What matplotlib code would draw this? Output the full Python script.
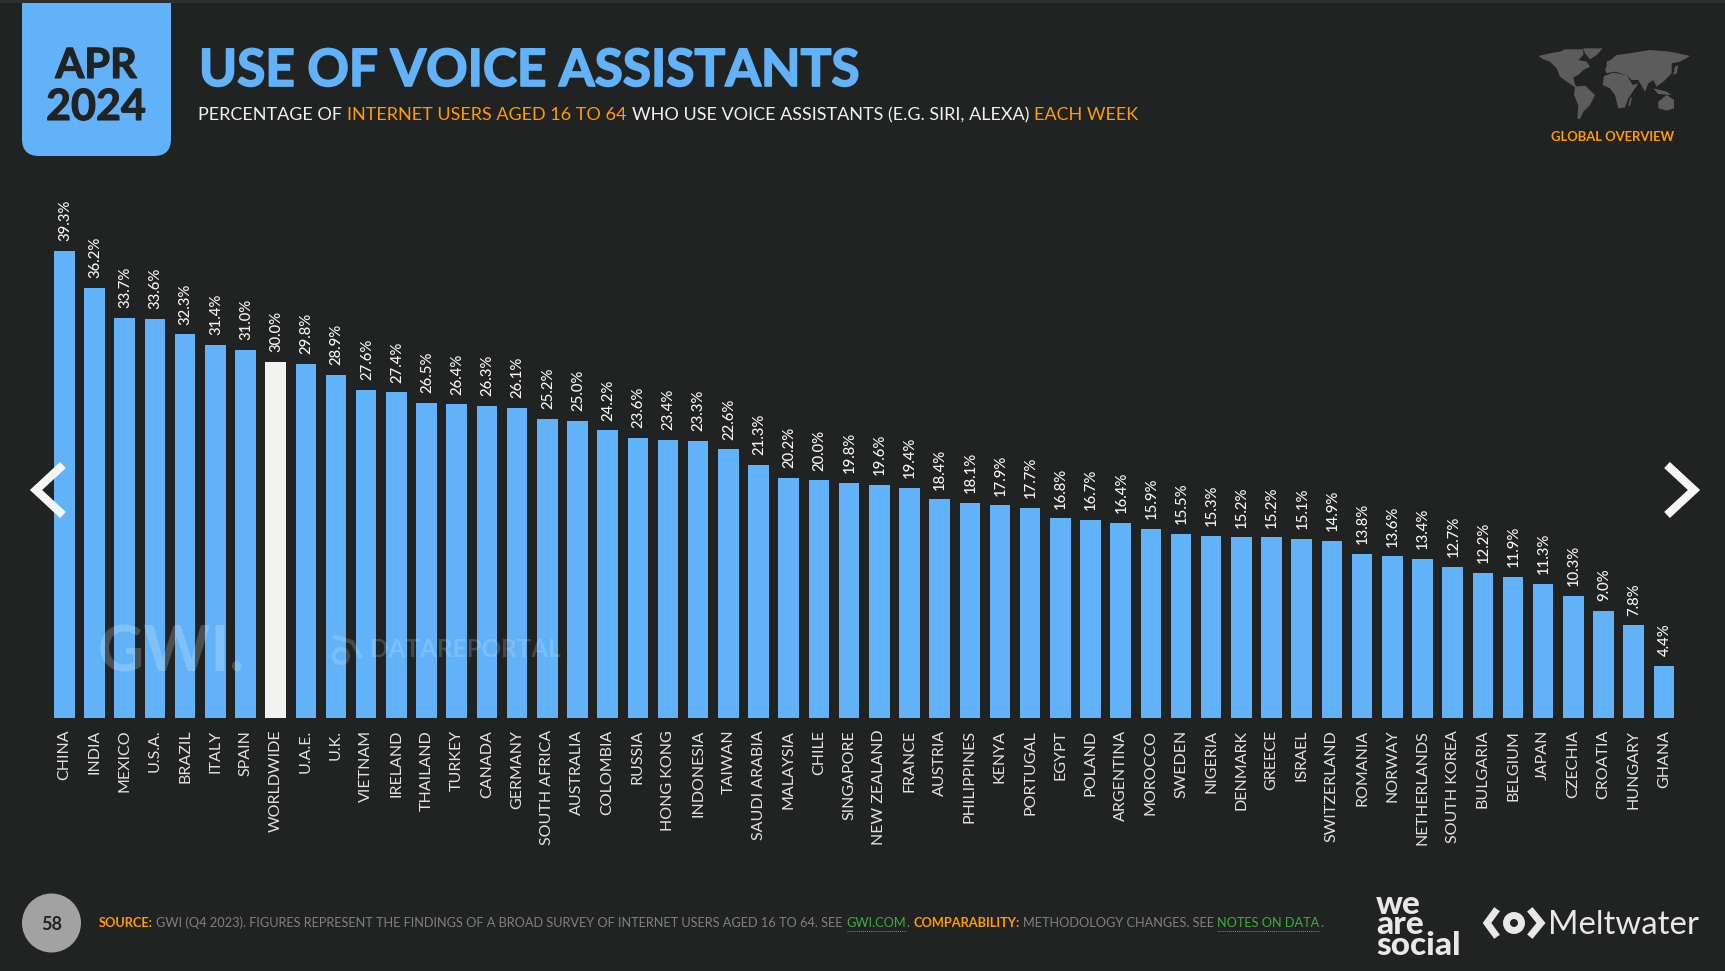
import matplotlib
matplotlib.use('Agg')
import matplotlib.pyplot as plt
import matplotlib.patheffects as pe
from matplotlib.patches import Circle, FancyBboxPatch, Polygon, Rectangle

# data
countries = ['CHINA', 'INDIA', 'MEXICO', 'U.S.A.', 'BRAZIL', 'ITALY', 'SPAIN', 'WORLDWIDE', 'U.A.E.', 'U.K.',
             'VIETNAM', 'IRELAND', 'THAILAND', 'TURKEY', 'CANADA', 'GERMANY', 'SOUTH AFRICA', 'AUSTRALIA',
             'COLOMBIA', 'RUSSIA', 'HONG KONG', 'INDONESIA', 'TAIWAN', 'SAUDI ARABIA', 'MALAYSIA', 'CHILE',
             'SINGAPORE', 'NEW ZEALAND', 'FRANCE', 'AUSTRIA', 'PHILIPPINES', 'KENYA', 'PORTUGAL', 'EGYPT',
             'POLAND', 'ARGENTINA', 'MOROCCO', 'SWEDEN', 'NIGERIA', 'DENMARK', 'GREECE', 'ISRAEL',
             'SWITZERLAND', 'ROMANIA', 'NORWAY', 'NETHERLANDS', 'SOUTH KOREA', 'BULGARIA', 'BELGIUM', 'JAPAN',
             'CZECHIA', 'CROATIA', 'HUNGARY', 'GHANA']
values = [39.3, 36.2, 33.7, 33.6, 32.3, 31.4, 31.0, 30.0, 29.8, 28.9,
          27.6, 27.4, 26.5, 26.4, 26.3, 26.1, 25.2, 25.0,
          24.2, 23.6, 23.4, 23.3, 22.6, 21.3, 20.2, 20.0,
          19.8, 19.6, 19.4, 18.4, 18.1, 17.9, 17.7, 16.8,
          16.7, 16.4, 15.9, 15.5, 15.3, 15.2, 15.2, 15.1,
          14.9, 13.8, 13.6, 13.4, 12.7, 12.2, 11.9, 11.3,
          10.3, 9.0, 7.8, 4.4]

BG = '#212322'
BLUE = '#61B2F8'
ORANGE = '#FF9A0A'
GREEN = '#3DAF3D'
W, H = 1725, 971

fig = plt.figure(figsize=(W / 100, H / 100), dpi=100, facecolor=BG)

# chart axes
ax = fig.add_axes([49.3 / W, 1 - 718 / H, (1679 - 49.3) / W, 499 / H])
ax.set_facecolor('none')
colors = ['#F2F1EF' if c == 'WORLDWIDE' else BLUE for c in countries]
x = list(range(len(countries)))
ax.bar(x, values, width=0.68, color=colors)
ax.set_xlim(-0.5, len(countries) - 0.5)
ax.set_ylim(0, 42)
ax.set_yticks([])
ax.set_xticks(x)
ax.set_xticklabels(countries, rotation=90, family='Lato', fontsize=11.5, color='#E2E2E2', ha='center', va='top')
ax.tick_params(axis='x', length=0, pad=8.5)
for s in ax.spines.values():
    s.set_visible(False)
for i, v in enumerate(values):
    ax.annotate(f'{v:.1f}%', (i, v), xytext=(0.5, 7), textcoords='offset points', rotation=90,
                ha='center', va='bottom', family='Lato', fontweight=500, fontsize=10.7, color='#F5F5F5')

# everything else sits on a pixel overlay
ov = fig.add_axes([0, 0, 1, 1])
ov.set_xlim(0, W)
ov.set_ylim(H, 0)
ov.axis('off')
ov.patch.set_alpha(0)
rend = fig.canvas.get_renderer()


def runs(x0, y, parts, size, gap, **kw):
    # text in several colours one after the other
    xpos = x0
    for n, (txt, col, weight) in enumerate(parts):
        t = ov.text(xpos, y, txt, color=col, fontsize=size, fontweight=weight, va='baseline', ha='left', **kw)
        bb = t.get_window_extent(rend)
        if col == GREEN:
            ov.plot([xpos, bb.x1], [y + 4, y + 4], color=GREEN, lw=0.7, ls=(0, (1, 1)))
        xpos = bb.x1 + gap
        if n + 1 < len(parts) and parts[n + 1][0] == '.':
            xpos = bb.x1 + 0.5
    return xpos


def thick(w, col):
    return [pe.withStroke(linewidth=w, foreground=col)]


# date tab
ov.add_patch(FancyBboxPatch((22, -40), 149, 196, boxstyle='round,pad=0,rounding_size=17', color=BLUE, lw=0))
ov.add_patch(Rectangle((0, 0), W, 3, color='#2E2F2F', lw=0))
ov.text(96, 78, 'APR', family='Lato', fontweight='bold', fontsize=30, color=BG, ha='center', va='baseline',
        path_effects=thick(0.8, BG))
ov.text(96, 120, '2024', family='Lato', fontweight='bold', fontsize=31, color=BG, ha='center', va='baseline',
        path_effects=thick(0.8, BG))

# title
ov.text(199, 86, 'USE OF VOICE ASSISTANTS', family='Lato', fontweight='bold', fontsize=37, color=BLUE, va='baseline',
        path_effects=thick(1.2, BLUE))
runs(198, 120, [('PERCENTAGE OF', '#F0F0F0', 'normal'),
                ('INTERNET USERS AGED 16 TO 64', ORANGE, 'normal'),
                ('WHO USE VOICE ASSISTANTS (E.G. SIRI, ALEXA)', '#F0F0F0', 'normal'),
                ('EACH WEEK', ORANGE, 'normal')], 12.95, 5, family='Lato')

# map, rough outline only
map_shapes = [
    [(265, 108), (300, 100), (330, 95), (345, 88), (400, 88), (400, 105), (385, 120), (410, 125), (420, 140),
     (400, 150), (385, 165), (370, 172), (375, 195), (385, 205), (372, 200), (350, 185), (330, 170), (320, 145),
     (300, 125), (280, 118)],
    [(400, 85), (458, 85), (440, 105), (420, 118), (405, 100)],
    [(375, 200), (405, 197), (435, 225), (420, 255), (400, 275), (390, 297), (382, 295), (385, 255), (372, 225)],
    [(462, 168), (490, 158), (530, 165), (548, 195), (565, 190), (535, 235), (525, 262), (505, 265), (495, 225),
     (480, 205), (458, 195)],
    [(465, 150), (475, 125), (500, 105), (540, 100), (600, 90), (660, 95), (720, 108), (690, 125), (665, 130),
     (665, 160), (640, 185), (620, 200), (610, 180), (595, 190), (585, 215), (565, 180), (545, 180), (530, 165),
     (495, 155), (470, 160)],
    [(625, 245), (650, 225), (672, 240), (672, 265), (650, 272), (625, 265)],
    [(610, 205), (650, 215), (665, 225), (625, 222)],
    [(470, 125), (482, 120), (480, 138), (470, 138)],
    [(675, 140), (685, 135), (680, 160), (670, 165)],
    [(540, 235), (546, 232), (540, 258), (535, 258)],
]
for shape in map_shapes:
    ov.add_patch(Polygon([(1450 + a / 3, 20 + b / 3) for a, b in shape], color='#5C5C5C', lw=0))
ov.text(1613, 141, 'GLOBAL OVERVIEW', family='Lato', fontweight='bold', fontsize=9.4, color=ORANGE,
        ha='center', va='baseline')

# nav arrows
ov.plot([63, 36, 63], [465, 490, 515], color='#F5F5F5', lw=6, solid_capstyle='butt', solid_joinstyle='miter')
ov.plot([1667, 1694, 1667], [465, 490, 515], color='#F5F5F5', lw=6, solid_capstyle='butt', solid_joinstyle='miter')

# watermarks
ov.text(98, 672, 'GWI.', family='Lato', fontweight='bold', fontsize=46, color='white', alpha=0.2, va='baseline')
ov.text(370, 657, 'DATAREPORTAL', family='Lato', fontweight='bold', fontsize=17.5, color='white', alpha=0.17, va='baseline')
ov.add_patch(Circle((341, 656), 7, fill=False, ec='white', alpha=0.17, lw=3))
ov.plot([335, 352, 360], [637, 642, 656], color='white', alpha=0.17, lw=3)

# footer
ov.add_patch(Circle((51.5, 923), 29.5, color='#A2A2A2', lw=0))
ov.text(51.5, 923, '58', family='Lato', fontweight='bold', fontsize=13, color=BG, ha='center', va='center_baseline')
GREY = '#808080'
runs(99, 927, [('SOURCE:', ORANGE, 'bold'),
               ('GWI (Q4 2023). FIGURES REPRESENT THE FINDINGS OF A BROAD SURVEY OF INTERNET USERS AGED 16 TO 64. SEE', GREY, 'normal'),
               ('GWI.COM', GREEN, 'normal'),
               ('.', GREY, 'normal'),
               ('COMPARABILITY:', ORANGE, 'bold'),
               ('METHODOLOGY CHANGES. SEE', GREY, 'normal'),
               ('NOTES ON DATA', GREEN, 'normal'),
               ('.', GREY, 'normal')], 9.2, 3.5, family='Lato')

# logos
ov.text(1376, 960, 'we\nare\nsocial', family='Lato', fontweight='black', fontsize=24, color='#E8E8E8',
        va='bottom', ha='left', linespacing=0.65)
ov.text(1548, 934, 'Meltwater', family='Lato', fontsize=23.7, color='#E8E8E8', va='baseline')
ov.plot([1495, 1487, 1495], [912, 923, 934], color='#E8E8E8', lw=5, solid_joinstyle='miter')
ov.plot([1532, 1541, 1532], [912, 923, 934], color='#E8E8E8', lw=5, solid_joinstyle='miter')
ov.add_patch(Circle((1514, 923), 7.5, fill=False, ec='#E8E8E8', lw=5))

fig.savefig('out.png', dpi=100, facecolor=BG)
